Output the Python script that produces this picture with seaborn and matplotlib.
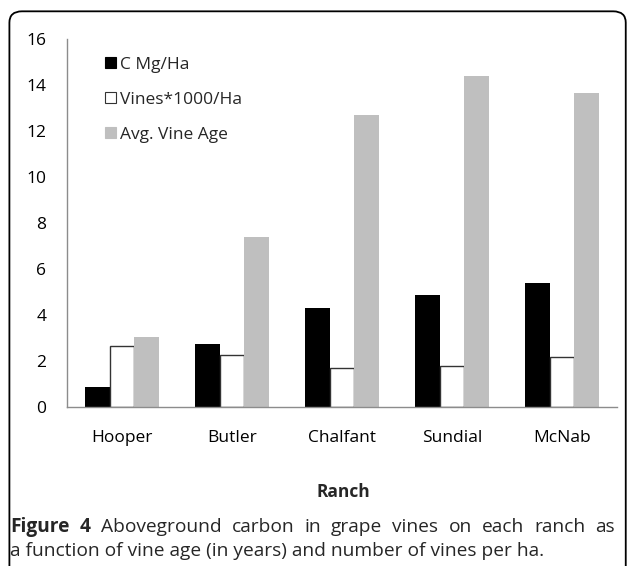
import numpy as np
import pandas as pd
import matplotlib
matplotlib.use('Agg')
import matplotlib.pyplot as plt
from matplotlib.patches import FancyBboxPatch, Patch
import seaborn as sns

# Data
ranches = ["Hooper", "Butler", "Chalfant", "Sundial", "McNab"]
series = ["C Mg/Ha", "Vines*1000/Ha", "Avg. Vine Age"]
carbon = [0.84, 2.71, 4.31, 4.86, 5.37]
vines = [2.66, 2.27, 1.68, 1.77, 2.16]
vine_age = [3.02, 7.39, 12.70, 14.38, 13.64]
colors = ["black", "white", "#bfbfbf"]

caption_bold = "Figure 4"
caption_1 = "Aboveground carbon in grape vines on each ranch as"
caption_2 = "a function of vine age (in years) and number of vines per ha."

df = pd.DataFrame({
    "Ranch": ranches * 3,
    "Series": [s for s in series for _ in ranches],
    "Value": carbon + vines + vine_age,
})

sns.set_style("white")
plt.rcParams['font.family'] = ['Open Sans', 'DejaVu Sans']

fig = plt.figure(figsize=(6.27, 5.66), dpi=100)
ax = fig.add_axes([0.1069, 0.2814, 0.8771, 0.6492])

sns.barplot(data=df, x="Ranch", y="Value", hue="Series", order=ranches,
            hue_order=series, palette=colors, width=0.667, ax=ax,
            edgecolor="none", linewidth=0, legend=False)

# white series gets a thin dark outline
for bar in ax.containers[1]:
    bar.set_edgecolor("#333333")
    bar.set_linewidth(1.0)

ax.set_ylim(0, 16)
ax.set_xlim(-0.5, 4.5)
ax.set_yticks(np.arange(0, 17, 2))
ax.set_xlabel("")
ax.set_ylabel("")
for side in ["top", "right"]:
    ax.spines[side].set_visible(False)
for side in ["left", "bottom"]:
    ax.spines[side].set_color("#8c8c8c")
    ax.spines[side].set_linewidth(1.0)

ax.tick_params(axis="y", which="major", direction="out", length=5, width=1,
               color="#8c8c8c", labelsize=12.5, pad=10, labelcolor="black")
ax.tick_params(axis="x", which="major", length=0, labelsize=12.5, pad=17,
               labelcolor="black")
ax.set_xticks(np.arange(-0.5, 5.0, 1.0), minor=True)
ax.tick_params(axis="x", which="minor", direction="out", length=6, width=1,
               color="#8c8c8c")

handles = [Patch(facecolor=c, edgecolor="#333333" if c == "white" else c,
                 linewidth=0.8) for c in colors]
ax.legend(handles, series, loc="upper left", bbox_to_anchor=(0.056, 0.972),
          frameon=False, fontsize=12.5, handlelength=0.65, handleheight=0.65,
          handletextpad=0.25, labelspacing=1.1, borderaxespad=0)

fig.text(0.548, 0.131, "Ranch", ha="center", va="center", fontsize=12.5,
         fontweight="bold")

# caption under the chart, first line justified to the frame width
fig.canvas.draw()
renderer = fig.canvas.get_renderer()
inv = fig.transFigure.inverted()
cap_kw = dict(va="center", fontsize=13.8)
left, right, y1, y2 = 0.016, 0.981, 0.069, 0.026
words = [(w, "bold") for w in caption_bold.split()]
words += [(w, "normal") for w in caption_1.split()]
texts, widths = [], []
for w, weight in words:
    t = fig.text(left, y1, w, ha="left", fontweight=weight, **cap_kw)
    bb = t.get_window_extent(renderer).transformed(inv)
    texts.append(t)
    widths.append(bb.width)
gap = (right - left - sum(widths)) / (len(words) - 1)
x = left
for t, wd in zip(texts, widths):
    t.set_x(x)
    x += wd + gap
fig.text(left, y2, caption_2, ha="left", **cap_kw)

# rounded frame around the chart (open at the bottom edge)
frame = FancyBboxPatch((0.015, -0.05), 0.983, 1.03, transform=fig.transFigure,
                       boxstyle="round,pad=0,rounding_size=0.02",
                       facecolor="none", edgecolor="black", linewidth=1.3)
fig.patches.append(frame)

fig.savefig("out.png", dpi=100)
